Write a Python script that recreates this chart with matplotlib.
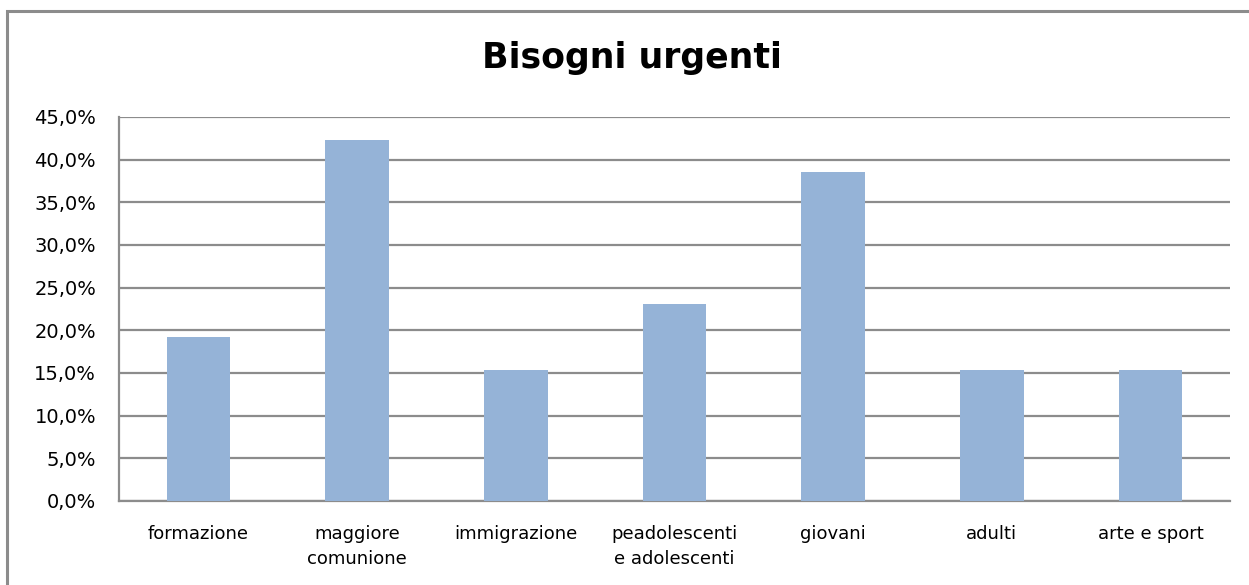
import matplotlib
matplotlib.use("Agg")
import matplotlib.pyplot as plt
from matplotlib.ticker import FuncFormatter, MultipleLocator
from matplotlib.patches import Rectangle

categories = ["formazione", "maggiore\ncomunione", "immigrazione", "peadolescenti\ne adolescenti",
              "giovani", "adulti", "arte e sport"]
values = [19.2, 42.3, 15.4, 23.1, 38.5, 15.4, 15.4]
title = "Bisogni urgenti"

W, H = 1249, 585
fig = plt.figure(figsize=(W / 100, H / 100), dpi=100)
plt.rcParams['font.family'] = ['DejaVu Sans']

# outer chart frame (extends beyond right/bottom edges as in reference)
fig.patches.append(Rectangle((7 / W, -0.1), 1.2, 1 - 11 / H + 0.1, transform=fig.transFigure,
                             fill=False, edgecolor='#8c8c8c', linewidth=2.2))

left, right, top, bottom = 119, 1230, 117, 501
ax = fig.add_axes([left / W, 1 - bottom / H, (right - left) / W, (bottom - top) / H])

x = range(len(categories))
ax.bar(x, values, width=0.4, color='#95B3D7', zorder=3)
ax.set_xlim(-0.5, len(categories) - 0.5)
ax.set_ylim(0, 45)
ax.yaxis.set_major_locator(MultipleLocator(5))
ax.yaxis.set_major_formatter(FuncFormatter(lambda v, p: f"{v:.1f}%".replace('.', ',')))
ax.grid(axis='y', color='#8c8c8c', linewidth=1.6, zorder=0)
ax.set_xticks(list(x))
ax.set_xticklabels(categories, fontsize=13, linespacing=1.5)
ax.tick_params(axis='x', length=0, pad=17)
ax.tick_params(axis='y', length=0, pad=16.5, labelsize=14)
for s in ['top', 'right']:
    ax.spines[s].set_visible(False)
for s in ['left', 'bottom']:
    ax.spines[s].set_color('#8c8c8c')
    ax.spines[s].set_linewidth(1.6)

fig.text(632 / W, 1 - 58 / H, title, ha='center', va='center', fontsize=25, fontweight='bold')

fig.savefig("out.png", dpi=100)
